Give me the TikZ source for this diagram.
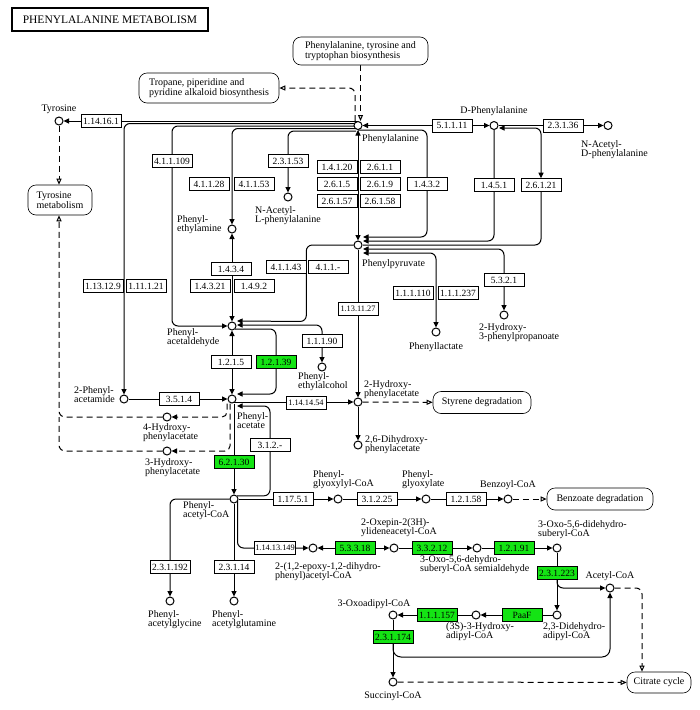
\documentclass[tikz,border=0pt]{standalone}
\usepackage{fontspec}
\setmainfont{Liberation Serif}
\usetikzlibrary{positioning, arrows.meta, backgrounds}
\definecolor{keggreen}{RGB}{20,228,20}

\begin{document}
\begin{tikzpicture}[x=1pt, y=-1pt,
    compoundnode/.style={circle, draw=black, fill=white, line width=1pt, minimum size=8pt, inner sep=0pt},
    enzymenode/.style={rectangle, draw=black, fill=white, line width=0.6pt, minimum width=40pt, minimum height=13pt, inner sep=0.5pt, font=\fontsize{9.5}{9.5}\selectfont},
    greennode/.style={enzymenode, fill=keggreen},
    smallnode/.style={enzymenode, font=\fontsize{8.3}{8.3}\selectfont},
    mapnode/.style={rectangle, rounded corners=8pt, draw=black, fill=white, line width=0.6pt, align=left, inner sep=2pt, font=\fontsize{10}{10}\selectfont},
    labelnode/.style={inner sep=0pt, align=left, font=\fontsize{10}{9.5}\selectfont},
    fwd/.style={line width=1pt, -{Triangle[length=5.5pt, width=5pt]}},
    twoway/.style={line width=1pt, {Triangle[length=5.5pt, width=5pt]}-{Triangle[length=5.5pt, width=5pt]}},
    bareline/.style={line width=1pt},
    dashfwd/.style={fwd, dash pattern=on 6pt off 4pt},
    dashline/.style={bareline, dash pattern=on 6pt off 4pt},
    mapline/.style={dashline, -{Triangle[length=6pt, width=5pt, fill=white]}}
]
\useasboundingbox (0,0) rectangle (700,710);

\node[draw, line width=1.3pt, minimum width=196pt, minimum height=23pt, inner sep=2pt, font=\fontsize{11.5}{11.5}\selectfont] (title) at (110,19.5) {PHENYLALANINE METABOLISM};

\node[mapnode, minimum width=135pt, minimum height=28pt] (pttbmap) at (360.5,51) {Phenylalanine, tyrosine and\\tryptophan biosynthesis};
\node[mapnode, minimum width=140pt, minimum height=30pt] (tropmap) at (209,88) {Tropane, piperidine and\\pyridine alkaloid biosynthesis};
\node[mapnode, minimum width=64pt, minimum height=30pt] (tyrmap) at (60,200) {Tyrosine\\metabolism};
\node[mapnode, minimum width=98pt, minimum height=22pt] (stymap) at (482,402.5) {Styrene degradation};
\node[mapnode, minimum width=106pt, minimum height=22pt] (bzmap) at (600,499) {Benzoate degradation};
\node[mapnode, minimum width=64pt, minimum height=21pt] (tcamap) at (659,682.5) {Citrate cycle};

\node[compoundnode] (tyr) at (59,121) {};
\node[compoundnode] (phe) at (358,125.5) {};
\node[compoundnode] (dphe) at (494,125.5) {};
\node[compoundnode] (nacd) at (608,125.5) {};
\node[compoundnode] (nacl) at (288,197) {};
\node[compoundnode] (pea) at (232,229) {};
\node[compoundnode] (ppy) at (358,245) {};
\node[compoundnode] (pal) at (232,326) {};
\node[compoundnode] (pol) at (322,367) {};
\node[compoundnode] (pac) at (232,399) {};
\node[compoundnode] (pam) at (124,399) {};
\node[compoundnode] (hpafour) at (167,417) {};
\node[compoundnode] (hpathree) at (167,451) {};
\node[compoundnode] (hpatwo) at (358,402) {};
\node[compoundnode] (dhpa) at (358,445) {};
\node[compoundnode] (plac) at (436,332) {};
\node[compoundnode] (hpp) at (504,315) {};
\node[compoundnode] (pcoa) at (234,499) {};
\node[compoundnode] (pgly) at (170,601) {};
\node[compoundnode] (pgln) at (234,601) {};
\node[compoundnode] (pgcoa) at (338,499) {};
\node[compoundnode] (pglx) at (426,499) {};
\node[compoundnode] (bzcoa) at (508,499) {};
\node[compoundnode] (epcoa) at (313,548) {};
\node[compoundnode] (oxcoa) at (394,548) {};
\node[compoundnode] (sald) at (477,548) {};
\node[compoundnode] (dsub) at (557,548) {};
\node[compoundnode] (accoa) at (610,588) {};
\node[compoundnode] (dadi) at (557,615) {};
\node[compoundnode] (hadi) at (476,615) {};
\node[compoundnode] (oadi) at (393,615) {};
\node[compoundnode] (succ) at (393,682) {};
\coordinate (acbend) at (610,657);

\node[enzymenode] (ec114161) at (101,121) {1.14.16.1};
\node[enzymenode] (ec411109) at (172,161) {4.1.1.109};
\node[enzymenode] (ec41128) at (209,184) {4.1.1.28};
\node[enzymenode] (ec41153) at (254,184) {4.1.1.53};
\node[enzymenode] (ec23153) at (288,161) {2.3.1.53};
\node[enzymenode] (ec14120) at (337,167) {1.4.1.20};
\node[enzymenode] (ec2611) at (380,167) {2.6.1.1};
\node[enzymenode] (ec2615) at (337,184) {2.6.1.5};
\node[enzymenode] (ec2619) at (380,184) {2.6.1.9};
\node[enzymenode] (ec26157) at (337,201) {2.6.1.57};
\node[enzymenode] (ec26158) at (380,201) {2.6.1.58};
\node[enzymenode] (ec1432) at (427,184) {1.4.3.2};
\node[enzymenode] (ec51111) at (452,125.5) {5.1.1.11};
\node[enzymenode] (ec23136) at (563,125.5) {2.3.1.36};
\node[enzymenode] (ec1451) at (494,185) {1.4.5.1};
\node[enzymenode] (ec26121) at (541,185) {2.6.1.21};
\node[enzymenode] (ec113129) at (103,286) {1.13.12.9};
\node[enzymenode] (ec111121) at (146,286) {1.11.1.21};
\node[enzymenode] (ec1434) at (231,269) {1.4.3.4};
\node[enzymenode] (ec14321) at (210,286) {1.4.3.21};
\node[enzymenode] (ec1492) at (254,286) {1.4.9.2};
\node[enzymenode] (ec41143) at (286,267) {4.1.1.43};
\node[enzymenode] (ec411x) at (328,267) {4.1.1.-};
\node[enzymenode] (ec5321) at (504,280) {5.3.2.1};
\node[enzymenode] (ec111110) at (413,293) {1.1.1.110};
\node[enzymenode] (ec111237) at (458,293) {1.1.1.237};
\node[smallnode] (ec1131127) at (358,309) {1.13.11.27};
\node[enzymenode] (ec11190) at (322,341) {1.1.1.90};
\node[enzymenode] (ec1215) at (231,362) {1.2.1.5};
\node[greennode] (ec12139) at (276,362) {1.2.1.39};
\node[enzymenode] (ec3514) at (179,399) {3.5.1.4};
\node[smallnode] (ec1141454) at (306,403) {1.14.14.54};
\node[enzymenode] (ec312x) at (270,445) {3.1.2.-};
\node[greennode] (ec62130) at (234,462) {6.2.1.30};
\node[enzymenode] (ec11751) at (293,499) {1.17.5.1};
\node[enzymenode] (ec31225) at (377,499) {3.1.2.25};
\node[enzymenode] (ec12158) at (466,499) {1.2.1.58};
\node[smallnode] (ec11413149) at (275,548) {1.14.13.149};
\node[greennode] (ec53318) at (355,548) {5.3.3.18};
\node[greennode] (ec33212) at (432,548) {3.3.2.12};
\node[greennode] (ec12191) at (514,548) {1.2.1.91};
\node[greennode] (ec231223) at (557,573) {2.3.1.223};
\node[greennode] (paaf) at (522,615) {PaaF};
\node[greennode] (ec111157) at (437,615) {1.1.1.157};
\node[greennode] (ec231174) at (393,637) {2.3.1.174};
\node[enzymenode] (ec231192) at (170,567) {2.3.1.192};
\node[enzymenode] (ec23114) at (234,567) {2.3.1.14};

\node[labelnode, above=3pt of tyr] (tyrname) {Tyrosine};
\node[labelnode, anchor=north west] (phename) at (362,134) {Phenylalanine};
\node[labelnode, above=5pt of dphe] (dphename) {D-Phenylalanine};
\node[labelnode, anchor=north west] (nacdname) at (581,140) {N-Acetyl-\\D-phenylalanine};
\node[labelnode, anchor=north west] (naclname) at (255,206) {N-Acetyl-\\L-phenylalanine};
\node[labelnode, anchor=north west] (peaname) at (177,215) {Phenyl-\\ethylamine};
\node[labelnode, anchor=north west] (ppyname) at (362,259) {Phenylpyruvate};
\node[labelnode, anchor=north west] (palname) at (167,328) {Phenyl-\\acetaldehyde};
\node[labelnode, anchor=north west] (polname) at (298,372) {Phenyl-\\ethylalcohol};
\node[labelnode, anchor=north west] (pacname) at (237,412) {Phenyl-\\acetate};
\node[labelnode, anchor=north west] (pamname) at (74,386) {2-Phenyl-\\acetamide};
\node[labelnode, anchor=north west] (hpafourname) at (143,423) {4-Hydroxy-\\phenylacetate};
\node[labelnode, anchor=north west] (hpathreename) at (145,458) {3-Hydroxy-\\phenylacetate};
\node[labelnode, anchor=north west] (hpatwoname) at (364,380) {2-Hydroxy-\\phenylacetate};
\node[labelnode, anchor=north west] (dhpaname) at (365,435) {2,6-Dihydroxy-\\phenylacetate};
\node[labelnode, below=6pt of plac] (placname) {Phenyllactate};
\node[labelnode, anchor=north west] (hppname) at (479,323) {2-Hydroxy-\\3-phenylpropanoate};
\node[labelnode, anchor=north west] (pcoaname) at (183,501) {Phenyl-\\acetyl-CoA};
\node[labelnode, anchor=north west] (pglyname) at (148,610) {Phenyl-\\acetylglycine};
\node[labelnode, anchor=north west] (pglnname) at (212,610) {Phenyl-\\acetylglutamine};
\node[labelnode, anchor=north west] (pgcoaname) at (313,470) {Phenyl-\\glyoxylyl-CoA};
\node[labelnode, anchor=north west] (pglxname) at (402,470) {Phenyl-\\glyoxylate};
\node[labelnode, above=5pt of bzcoa] (bzcoaname) {Benzoyl-CoA};
\node[labelnode, anchor=north west] (epcoaname) at (275,562) {2-(1,2-epoxy-1,2-dihydro-\\phenyl)acetyl-CoA};
\node[labelnode, anchor=north west] (oxcoaname) at (361,518) {2-Oxepin-2(3H)-\\ylideneacetyl-CoA};
\node[labelnode, anchor=north west] (saldname) at (420,555) {3-Oxo-5,6-dehydro-\\suberyl-CoA semialdehyde};
\node[labelnode, anchor=north west] (dsubname) at (538,520) {3-Oxo-5,6-didehydro-\\suberyl-CoA};
\node[labelnode, above=3pt of accoa] (accoaname) {Acetyl-CoA};
\node[labelnode, anchor=north west] (dadiname) at (543,622) {2,3-Didehydro-\\adipyl-CoA};
\node[labelnode, anchor=north west] (hadiname) at (446,622) {(3S)-3-Hydroxy-\\adipyl-CoA};
\node[labelnode, anchor=north] (oadiname) at (374,599) {3-Oxoadipyl-CoA};
\node[labelnode, below=5pt of succ] (succname) {Succinyl-CoA};

\begin{scope}[on background layer]
\fill[white] (0,0) rectangle (700,710);
\draw[fwd] (tyr -| phe) -- (tyr);
\draw[fwd, rounded corners=6pt] ([yshift=2pt]phe.center) -| (pam);
\draw[fwd, rounded corners=6pt] ([yshift=-0.5pt]phe.center) -| (ec411109 |- pal) -- (pal);
\draw[fwd, rounded corners=6pt] ([yshift=-3pt]phe.center) -| (pea);
\draw[fwd, rounded corners=6pt] ([xshift=-2pt, yshift=-5.5pt]phe.center) -| (nacl);
\draw[mapline, rounded corners=6pt] ([xshift=-3pt]phe.north) |- (tropmap);
\draw[mapline] (pttbmap.south) -- (pttbmap.south |- phe.north);
\draw[twoway] (phe) -- (dphe);
\draw[fwd] (dphe) -- (nacd);
\draw[twoway] (phe) -- (ppy);
\draw[fwd, rounded corners=6pt] ([yshift=-4.5pt]phe.center) -| (ec1432) |- ([xshift=5pt, yshift=8pt]ppy.center);
\draw[fwd, rounded corners=6pt] (dphe) |- ([xshift=5pt, yshift=4pt]ppy.center);
\draw[twoway, rounded corners=6pt] ([xshift=5pt]ppy.center) -| (ec26121) |- ([xshift=5pt, yshift=-2.5pt]dphe.center);
\draw[twoway, rounded corners=6pt] ([xshift=5pt, yshift=-4pt]ppy.center) -| (hpp);
\draw[twoway, rounded corners=6pt] ([xshift=5pt, yshift=-8pt]ppy.center) -| (plac);
\draw[fwd, rounded corners=6pt] (ppy) -| (ec41143.east |- pal.north) -- ([xshift=5pt, yshift=5pt]pal.center);
\draw[twoway, rounded corners=6pt] ([xshift=5pt, yshift=1pt]pal.center) -| (pol);
\draw[fwd, rounded corners=6pt] ([xshift=3pt, yshift=-3pt]pal.center) -| (ec12139) |- ([xshift=5pt, yshift=5pt]pac.center);
\draw[twoway] (pea) -- (pal);
\draw[twoway] (pal) -- (pac);
\draw[fwd] (pam) -- (pac);
\draw[fwd] ([yshift=-3pt]pac.center) -- (hpatwo);
\draw[fwd, rounded corners=6pt] (pcoa.north east) -| (ec312x) |- ([xshift=5pt, yshift=-7pt]pac.center);
\draw[fwd] ([xshift=2pt]pac.south) -- (pcoa);
\draw[dashfwd, rounded corners=5pt] ([xshift=-5pt]pac.south) |- (hpafour);
\draw[dashfwd, rounded corners=5pt] ([xshift=-2pt]pac.south) |- (hpathree);
\draw[mapline, rounded corners=6pt] (hpafour) -| (tyrmap.south -| tyr);
\draw[dashline, rounded corners=6pt] (hpathree) -| (tyr |- hpafour);
\draw[mapline] (tyr) -- (tyr |- tyrmap.north);
\draw[fwd] (ppy) -- (hpatwo);
\draw[fwd] (hpatwo) -- (dhpa);
\draw[mapline] (hpatwo) -- (stymap);
\draw[fwd, rounded corners=6pt] (pcoa) -| (pgly);
\draw[fwd] (pcoa) -- (pgln);
\draw[fwd] (pcoa) -- (pgcoa);
\draw[fwd, rounded corners=6pt] ([xshift=3.5pt]pcoa.center) |- (epcoa);
\draw[fwd] (pgcoa) -- (pglx);
\draw[fwd] (pglx) -- (bzcoa);
\draw[mapline] (bzcoa) -- (bzmap);
\draw[twoway] (epcoa) -- (oxcoa);
\draw[fwd] (oxcoa) -- (sald);
\draw[fwd] (sald) -- (dsub);
\draw[fwd] (dsub) -- (dadi);
\draw[fwd, rounded corners=6pt] (ec231223.south) |- (accoa);
\draw[fwd] (dadi) -- (hadi);
\draw[fwd] (hadi) -- (oadi);
\draw[fwd] (oadi) -- (succ);
\draw[fwd, rounded corners=8pt] (ec231174.south) |- (acbend) -- (accoa);
\draw[mapline] (succ) -- (tcamap);
\draw[mapline, rounded corners=6pt] (accoa) -| ([xshift=-17pt]tcamap.north);
\end{scope}
\end{tikzpicture}
\end{document}
